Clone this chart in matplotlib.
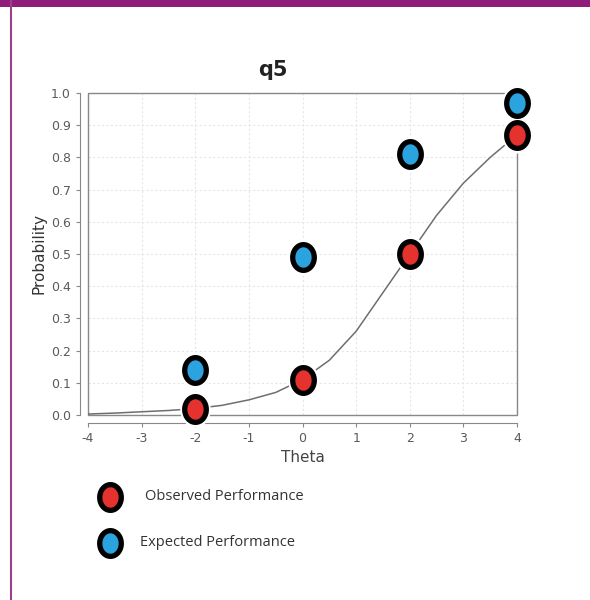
import numpy as np
import matplotlib
matplotlib.use("Agg")
import matplotlib.pyplot as plt
from matplotlib.path import Path
from matplotlib.patches import Rectangle
from matplotlib.lines import Line2D

plt.rcParams["axes.unicode_minus"] = False

# item characteristic curve
theta_curve = [-4, -3.5, -3, -2.5, -2, -1.5, -1, -0.5, 0, 0.5, 1, 1.5, 2, 2.5, 3, 3.5, 4]
prob_curve = [0.003, 0.006, 0.01, 0.014, 0.02, 0.03, 0.047, 0.07, 0.11, 0.17,
              0.26, 0.38, 0.5, 0.62, 0.72, 0.8, 0.87]

theta_pts = [-2, 0, 2, 4]
observed = [0.02, 0.11, 0.50, 0.87]
expected = [0.14, 0.49, 0.81, 0.97]

title = "q5"
x_label = "Theta"
y_label = "Probability"
legend_labels = ["Observed Performance", "Expected Performance"]

RED = "#e5322f"
BLUE = "#2aa3df"
GRAY = "#5a5a5a"

# slightly tall ellipse marker
t = np.linspace(0, 2 * np.pi, 60)
ellipse = Path(np.column_stack([0.84 * np.cos(t), np.sin(t)]), closed=True)

fig = plt.figure(figsize=(5.9, 6.0), dpi=100)
ax = fig.add_axes([88 / 590, 1 - 415 / 600, 429 / 590, 322 / 600])

ax.plot(theta_curve, prob_curve, color="#6e6e6e", lw=1.1, zorder=2)


def dots(ax, x, y, color):
    # white halo so the curve stops short of each marker
    ax.plot(x, y, ls="none", marker=ellipse, ms=25, mfc="white", mec="white",
            zorder=3, clip_on=False)
    return ax.plot(x, y, ls="none", marker=ellipse, ms=18.5, mfc=color, mec="black",
                   mew=3.8, zorder=4, clip_on=False)[0]


h_obs = dots(ax, theta_pts, observed, RED)
h_exp = dots(ax, theta_pts, expected, BLUE)

ax.set_xlim(-4, 4)
ax.set_ylim(0, 1)
ax.set_xticks(range(-4, 5))
ax.set_yticks(np.arange(0, 1.01, 0.1))
ax.set_yticklabels([f"{v:.1f}" for v in np.arange(0, 1.01, 0.1)])
ax.grid(True, color="#e6e6e6", lw=0.8, ls=(0, (2, 2)))
ax.set_axisbelow(True)

for s in ["top", "right"]:
    ax.spines[s].set_visible(False)
for s in ["left", "bottom"]:
    ax.spines[s].set_position(("outward", 6))
    ax.spines[s].set_color("#888888")
ax.add_patch(Rectangle((0, 0), 1, 1, transform=ax.transAxes, fill=False,
                       ec="#888888", lw=1.0, zorder=1, clip_on=False))

ax.tick_params(colors="#888888", labelcolor=GRAY, labelsize=9, length=3)

ax.set_title(title, fontsize=15, fontweight="bold", color="#222222", pad=12, x=0.431)
ax.set_xlabel(x_label, fontsize=11, color="#444444", labelpad=3)
ax.set_ylabel(y_label, fontsize=11, color="#333333", labelpad=3)

# legend below the chart
for i, (lbl, col) in enumerate(zip(legend_labels, [RED, BLUE])):
    yy = 1 - (497 + 46 * i) / 600
    fig.add_artist(Line2D([110 / 590], [yy], transform=fig.transFigure,
                          marker=ellipse, ms=18.5, mfc=col, mec="black", mew=3.8))
    fig.text((145 - 5 * i) / 590, yy, lbl, fontsize=10.5, color="#333333",
             va="center", family="Open Sans")

# purple page frame
fig.add_artist(Rectangle((0, 1 - 7 / 600), 1, 7 / 600, transform=fig.transFigure,
                         color="#8e1c78", lw=0))
fig.add_artist(Line2D([10.5 / 590, 10.5 / 590], [0, 1], transform=fig.transFigure,
                      color="#9b3f8a", lw=1.5))

fig.savefig("out.png", dpi=100)
